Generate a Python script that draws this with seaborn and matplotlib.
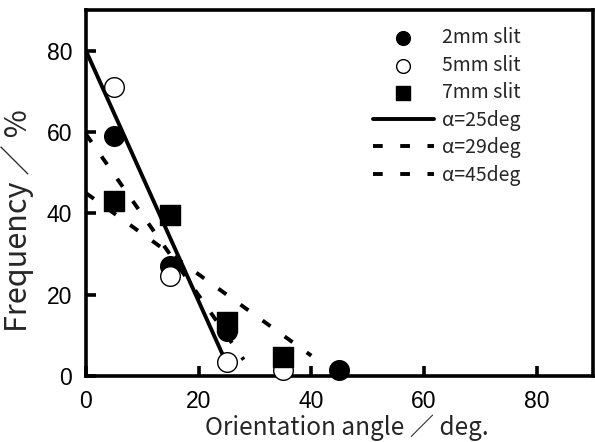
import matplotlib
matplotlib.use("Agg")
import matplotlib.pyplot as plt
import pandas as pd
import seaborn as sns

sns.set_theme(style="white")
plt.rcParams['font.family'] = ['Noto Sans CJK JP', 'DejaVu Sans']

## Data
angle = [5, 15, 25, 35, 45]
slit2 = [59, 27, 11, None, 1.5]
slit5 = [71, 24.5, 3.5, 1.5, None]
slit7 = [43, 39.5, 13.2, 4.7, None]

fit25_x = [0, 25]
fit25_y = [80, 3]
fit29_x = [0, 28]
fit29_y = [59.5, 4]
fit45_x = [0, 40]
fit45_y = [45, 5]

ticks = [0, 20, 40, 60, 80]
tick_labels = ['0', '20', '40', '60', '80']

pts = pd.DataFrame({"angle": angle, "2mm": slit2, "5mm": slit5, "7mm": slit7})

fig = plt.figure(figsize=(5.95, 4.42), dpi=100)
ax = fig.add_axes([0.1445, 0.1493, 0.852, 0.8277])

## Model lines
lw = 2.8
sns.lineplot(x=fit25_x, y=fit25_y, ax=ax, color='black', lw=lw,
             label='α=25deg')
sns.lineplot(x=fit29_x, y=fit29_y, ax=ax, color='black', lw=lw,
             dashes=(2.5, 4.5), label='α=29deg')
sns.lineplot(x=fit45_x, y=fit45_y, ax=ax, color='black', lw=lw,
             dashes=(2.5, 4.5), label='α=45deg')

## Measured points
ms = 200
sns.scatterplot(data=pts, x="angle", y="2mm", ax=ax, marker='o', s=ms,
                color='black', edgecolor='black', linewidth=1,
                label='2mm slit', clip_on=False, zorder=3)
sns.scatterplot(data=pts, x="angle", y="5mm", ax=ax, marker='o', s=ms,
                color='white', edgecolor='black', linewidth=1,
                label='5mm slit', clip_on=False, zorder=3)
sns.scatterplot(data=pts, x="angle", y="7mm", ax=ax, marker='s', s=ms,
                color='black', edgecolor='black', linewidth=1,
                label='7mm slit', clip_on=False, zorder=3)

## Axes style
ax.set_xlim(0, 90)
ax.set_ylim(0, 90)
ax.set_axisbelow(False)
for s in ax.spines.values():
    s.set_linewidth(2.6)
    s.set_color('black')
ax.tick_params(bottom=True, left=True, direction='in', length=7, width=2.6,
               labelsize=16.5, pad=10, colors='black')
ax.set_xticks(ticks, tick_labels, fontfamily='Liberation Sans')
ax.set_yticks(ticks, tick_labels, fontfamily='Liberation Sans')

ax.set_xlabel('Orientation angle ／ deg.', fontsize=17.5)
ax.set_ylabel('Frequency ／ %', fontsize=22)
ax.xaxis.set_label_coords(0.515, -0.105)
ax.yaxis.set_label_coords(-0.103, 0.424)

## Legend
h, l = ax.get_legend_handles_labels()
order = [3, 4, 5, 0, 1, 2]
ax.legend([h[i] for i in order], [l[i] for i in order], loc='upper left',
          bbox_to_anchor=(0.54, 0.99), frameon=False, fontsize=14,
          handlelength=3.1, handletextpad=0.45, labelspacing=0.33,
          markerscale=0.7, borderaxespad=0.3)

plt.savefig('out.png', dpi=100)
